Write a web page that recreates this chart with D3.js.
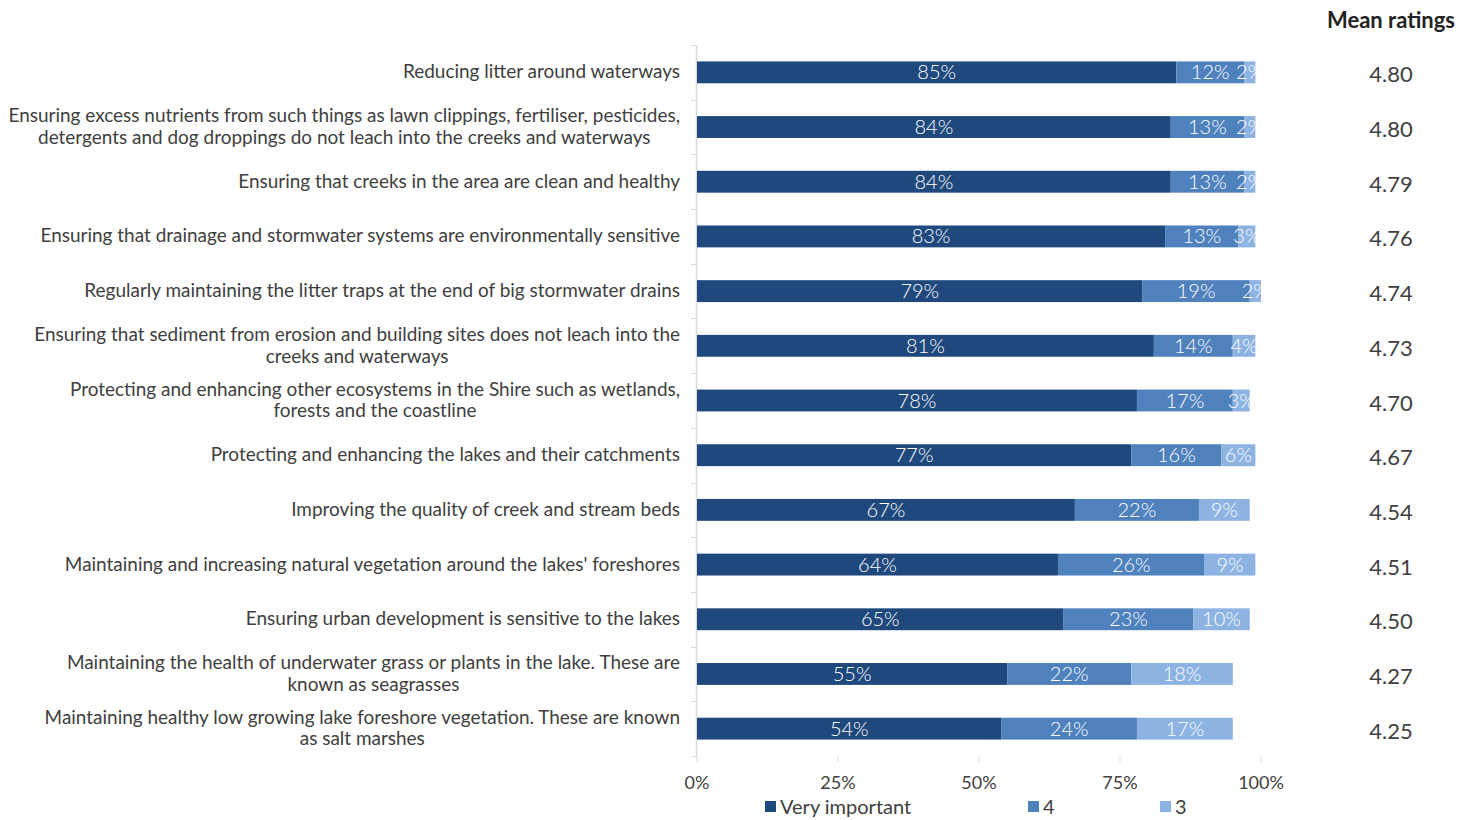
<!DOCTYPE html>
<html><head><meta charset="utf-8">
<script src="https://cdn.jsdelivr.net/npm/d3@7"></script>
<style>body{margin:0;background:#fff}svg{display:block}text{font-family:"Lato","Open Sans",sans-serif}</style>
</head><body><svg id="c" width="1478" height="820"></svg>
<script>
const categories = [
 ["Reducing litter around waterways"],
 ["Ensuring excess nutrients from such things as lawn clippings, fertiliser, pesticides,","detergents and dog droppings do not leach into the creeks and waterways"],
 ["Ensuring that creeks in the area are clean and healthy"],
 ["Ensuring that drainage and stormwater systems are environmentally sensitive"],
 ["Regularly maintaining the litter traps at the end of big stormwater drains"],
 ["Ensuring that sediment from erosion and building sites does not leach into the","creeks and waterways"],
 ["Protecting and enhancing other ecosystems in the Shire such as wetlands,","forests and the coastline"],
 ["Protecting and enhancing the lakes and their catchments"],
 ["Improving the quality of creek and stream beds"],
 ["Maintaining and increasing natural vegetation around the lakes' foreshores"],
 ["Ensuring urban development is sensitive to the lakes"],
 ["Maintaining the health of underwater grass or plants in the lake. These are","known as seagrasses"],
 ["Maintaining healthy low growing lake foreshore vegetation. These are known","as salt marshes"]
];
const veryImportant = [85,84,84,83,79,81,78,77,67,64,65,55,54];
const rating4 = [12,13,13,13,19,14,17,16,22,26,23,22,24];
const rating3 = [2,2,2,3,2,4,3,6,9,9,10,18,17];
const meanRatings = ["4.80","4.80","4.79","4.76","4.74","4.73","4.70","4.67","4.54","4.51","4.50","4.27","4.25"];
const seriesNames = ["Very important","4","3"];
const tickValues = [0,25,50,75,100];
const colors = ["#1f497d","#4f81bd","#8db3e2"];

const svg = d3.select("#c");
const x = d3.scaleLinear().domain([0,100]).range([697,1261]);
const y = d3.scaleBand().domain(d3.range(categories.length)).range([45,756]).paddingInner(0.6).paddingOuter(0.3);

const series = [veryImportant, rating4, rating3];
const rows = categories.map((c,i)=>({i, vals: series.map(s=>s[i])}));

// axis line
svg.append("line").attr("x1",696.5).attr("x2",696.5).attr("y1",45).attr("y2",757).attr("stroke","#d9d9d9").attr("stroke-width",1.5);
const bounds = d3.range(categories.length+1).map(i=>45+ i*(711/categories.length));
svg.selectAll(".ct").data(bounds).join("line").attr("x1",691).attr("x2",697).attr("y1",d=>Math.round(d)+0.5).attr("y2",d=>Math.round(d)+0.5).attr("stroke","#d9d9d9");
svg.selectAll(".xt").data(tickValues).join("line").attr("x1",d=>x(d)).attr("x2",d=>x(d)).attr("y1",757).attr("y2",762).attr("stroke","#d9d9d9");
svg.selectAll(".xl").data(tickValues).join("text").attr("x",d=>x(d)).attr("y",789).attr("text-anchor","middle")
  .attr("font-size",18).attr("fill","#404040").text(d=>d+"%");

// bars
const g = svg.append("g");
rows.forEach(r=>{
  let cum=0;
  r.vals.forEach((v,k)=>{
    const x0=x(cum), x1=x(cum+v);
    g.append("rect").attr("x",x0).attr("y",y(r.i)).attr("width",x1-x0).attr("height",y.bandwidth()).attr("fill",colors[k]);
    const cx=(x0+x1)/2;
    g.append("text").attr("x",cx).attr("y",y(r.i)+y.bandwidth()/2+7).attr("text-anchor","middle")
      .attr("font-size",20).attr("font-weight",300).attr("fill","#ffffff").text(v+"%");
    cum+=v;
  });
});

// category labels, sized so the widest line spans the same width as the reference
const lab = svg.append("g");
const probe = lab.append("text").attr("font-size",20).attr("font-family","Open Sans").text(categories[1][0]);
const fs = 20*672/probe.node().getComputedTextLength();
probe.remove();
rows.forEach(r=>{
  const lines = categories[r.i];
  const cy = y(r.i)+y.bandwidth()/2;
  const t = lab.append("g");
  const texts = lines.map((l,j)=>t.append("text").attr("font-family","Open Sans").attr("font-size",fs).attr("fill","#404040").attr("text-anchor","middle").text(l));
  const w = d3.max(texts, tt=>tt.node().getComputedTextLength());
  const cx = 680 - w/2;
  const lh = 21.5;
  texts.forEach((tt,j)=>tt.attr("x",cx).attr("y", cy + (j-(lines.length-1)/2)*lh + 6));
});

// mean ratings
svg.append("text").attr("x",1391).attr("y",28).attr("text-anchor","middle").attr("font-size",22).attr("font-weight","bold").attr("fill","#222").text("Mean ratings");
svg.selectAll(".mr").data(meanRatings).join("text").attr("x",1391).attr("y",(d,i)=>y(i)+y.bandwidth()/2+10).attr("text-anchor","middle")
  .attr("font-size",22).attr("fill","#404040").text(d=>d);

// legend
const legX = [765,1028,1160];
seriesNames.forEach((n,k)=>{
  svg.append("rect").attr("x",legX[k]).attr("y",801).attr("width",11).attr("height",11).attr("fill",colors[k]);
  svg.append("text").attr("x",legX[k]+15).attr("y",814).attr("font-size",20).attr("fill","#404040").text(n);
});
</script></body></html>
